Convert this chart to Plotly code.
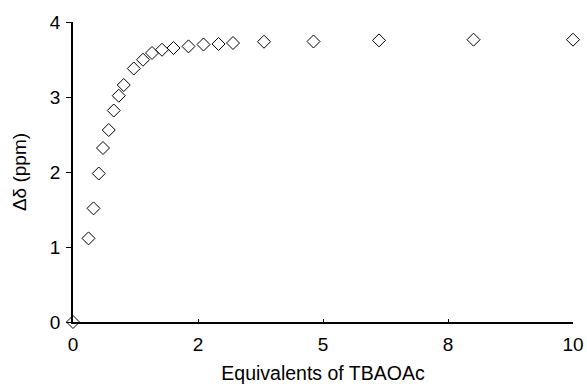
import plotly.graph_objects as go

equivalents = [0, 0.31, 0.41, 0.515, 0.60, 0.715, 0.815, 0.915, 1.015, 1.215, 1.40, 1.58, 1.78,
               2.01, 2.31, 2.61, 2.91, 3.20, 3.82, 4.81, 6.12, 8.01, 10.0]
delta_ppm = [0, 1.115, 1.515, 1.98, 2.32, 2.56, 2.82, 3.017, 3.16, 3.38, 3.497, 3.587, 3.63,
             3.653, 3.675, 3.70, 3.707, 3.72, 3.737, 3.74, 3.755, 3.764, 3.764]

x_tick_vals = [0, 2.5, 5, 7.5, 10]
x_tick_text = ["0", "2", "5", "8", "10"]
y_tick_vals = [0, 1, 2, 3, 4]

font_family = "Liberation Sans, Arial, sans-serif"

fig = go.Figure()
fig.add_trace(go.Scatter(
    x=equivalents, y=delta_ppm, mode="markers",
    marker=dict(symbol="diamond-open", size=10, color="black", line=dict(width=1, color="black")),
    cliponaxis=False, showlegend=False,
))

fig.update_layout(
    width=587, height=386,
    margin=dict(l=72.5, r=13.5, t=22, b=64),
    paper_bgcolor="white", plot_bgcolor="white",
    font=dict(family=font_family, size=19, color="black"),
    xaxis=dict(
        range=[0, 10], tickvals=x_tick_vals, ticktext=x_tick_text,
        showline=True, linecolor="black", linewidth=1.5,
        ticks="inside", ticklen=3, tickcolor="black", tickwidth=1,
        ticklabelstandoff=4, automargin=False,
        showgrid=False, zeroline=False,
        title=dict(text="Equivalents of TBAOAc", standoff=13, font=dict(size=19.5)),
        tickfont=dict(size=19),
    ),
    yaxis=dict(
        range=[0, 4], tickvals=y_tick_vals,
        showline=True, linecolor="black", linewidth=1.5,
        ticks="outside", ticklen=5, tickcolor="black", tickwidth=1,
        ticklabelstandoff=2, automargin=False,
        showgrid=False, zeroline=False,
        title=dict(text="Δδ (ppm)", standoff=18, font=dict(size=19)),
        tickfont=dict(size=19),
    ),
)

fig.write_html("out.html")
